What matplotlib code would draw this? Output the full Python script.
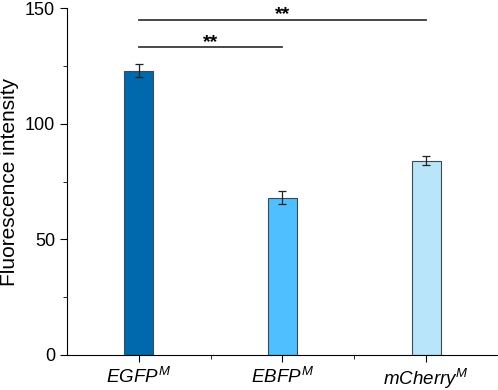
import matplotlib
matplotlib.use('Agg')
import matplotlib.pyplot as plt
from matplotlib.ticker import MultipleLocator, FixedLocator

plt.rcParams['font.family'] = ['Liberation Sans', 'DejaVu Sans']
plt.rcParams['mathtext.fontset'] = 'custom'
plt.rcParams['mathtext.rm'] = 'Liberation Sans'
plt.rcParams['mathtext.it'] = 'Liberation Sans:italic'

# data
labels = [r'$EGFP^{M}$', r'$EBFP^{M}$', r'$mCherry^{M}$']
values = [123, 68, 84]
errors = [2.8, 2.8, 2.0]
colors = ['#0068ad', '#4fbfff', '#b8e5fa']
# significance brackets: (from index, to index, height, label)
brackets = [(0, 2, 145, '**'), (0, 1, 133, '**')]

fig = plt.figure(figsize=(4.98, 3.9), dpi=100)
ax = fig.add_axes([0.1345, 0.09, 0.8655, 0.889])

x = list(range(len(values)))
ax.bar(x, values, width=0.2, color=colors, edgecolor='#3c4a55', linewidth=0.8,
       yerr=errors, capsize=3, error_kw={'elinewidth': 0.9, 'capthick': 0.9, 'ecolor': '#222222'})

for i, j, h, txt in brackets:
    ax.plot([i, j], [h, h], color='#3a3a3a', linewidth=1.3)
    ax.text((i + j) / 2, h + 0.3, txt, ha='center', va='baseline', fontsize=14,
            fontweight='bold')

ax.set_xlim(-0.5, 2.5)
ax.set_ylim(0, 150)
ax.set_xticks(x)
ax.set_xticklabels(labels, fontsize=13.5)
ax.xaxis.set_minor_locator(FixedLocator([0.5, 1.5]))
ax.yaxis.set_major_locator(MultipleLocator(50))
ax.yaxis.set_minor_locator(MultipleLocator(25))
ax.tick_params(axis='y', labelsize=13)
ax.tick_params(which='both', direction='out')
ax.tick_params(which='major', length=5)
ax.tick_params(which='minor', length=3)
ax.set_ylabel('Fluorescence intensity', fontsize=15, labelpad=4)

for s in ['top', 'right']:
    ax.spines[s].set_visible(False)

fig.savefig('out.png', dpi=100)
